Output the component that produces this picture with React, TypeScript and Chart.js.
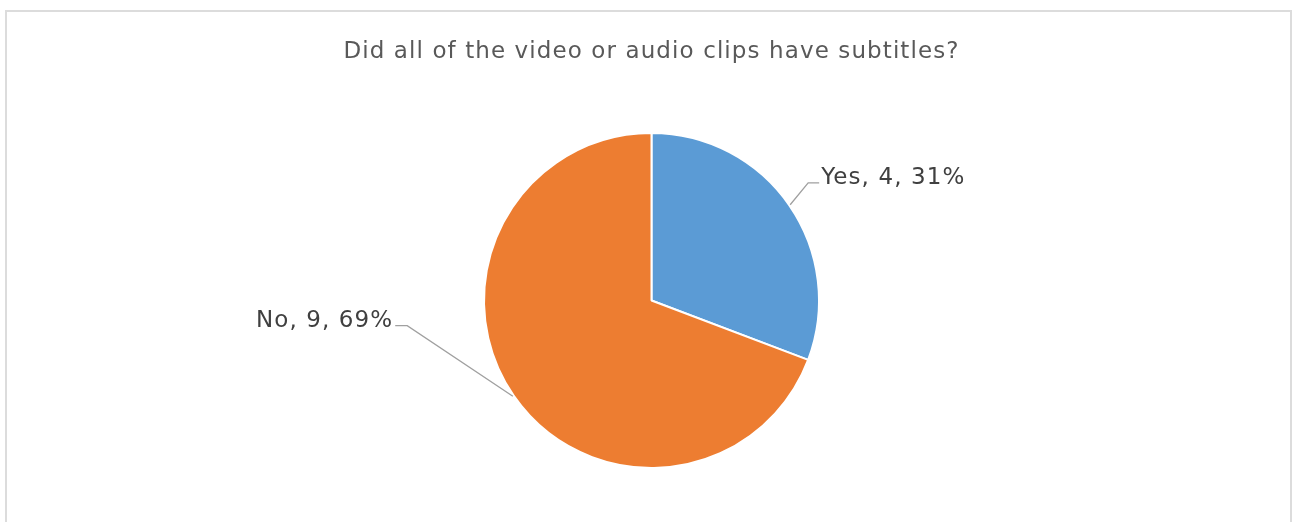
import React, { useEffect, useRef } from "react";
import { Chart, registerables } from "chart.js";

Chart.register(...registerables);

const TITLE = "Did all of the video or audio clips have subtitles?";
const categories = ["Yes", "No"];
const counts = [4, 9];
const sliceColors = ["#5B9BD5", "#ED7D31"];

const FONT_FAMILY = "'DejaVu Sans'";
const LETTER_SPACING = "1.1px";

// label placement: elbow offset from slice-edge midpoint, and horizontal run direction
const labelLayout = [
  { dx: 18, dy: -22, run: 11, side: 1 },
  { dx: -105.6, dy: -70.6, run: 12, side: -1 },
];

const spacingPlugin = {
  id: "letterSpacing",
  beforeDraw(chart: any) {
    (chart.ctx as any).letterSpacing = LETTER_SPACING;
  },
  afterDraw(chart: any) {
    (chart.ctx as any).letterSpacing = "0px";
  },
};

const labelPlugin = {
  id: "pieLabels",
  afterDatasetsDraw(chart: any) {
    const ctx = chart.ctx;
    const meta = chart.getDatasetMeta(0);
    const data = chart.data.datasets[0].data as number[];
    const total = data.reduce((a, b) => a + b, 0);
    ctx.save();
    meta.data.forEach((arc: any, i: number) => {
      const p = arc.getProps(["x", "y", "startAngle", "endAngle", "outerRadius"], true);
      const mid = (p.startAngle + p.endAngle) / 2;
      const r = p.outerRadius + 1;
      const ex = p.x + Math.cos(mid) * r;
      const ey = p.y + Math.sin(mid) * r;
      const L = labelLayout[i];
      const bx = ex + L.dx;
      const by = ey + L.dy;
      const hx = bx + L.side * L.run;
      ctx.strokeStyle = "#A0A0A0";
      ctx.lineWidth = 1.3;
      ctx.beginPath();
      ctx.moveTo(ex, ey);
      ctx.lineTo(bx, by);
      ctx.lineTo(hx, by);
      ctx.stroke();
      const pct = Math.round((data[i] / total) * 100);
      const text = `${chart.data.labels[i]}, ${data[i]}, ${pct}%`;
      ctx.letterSpacing = LETTER_SPACING;
      ctx.font = `23px ${FONT_FAMILY}`;
      ctx.fillStyle = "#404040";
      ctx.textBaseline = "alphabetic";
      ctx.textAlign = L.side > 0 ? "left" : "right";
      ctx.fillText(text, hx + L.side * 2, by + 1);
    });
    ctx.restore();
  },
};

export default function App() {
  const ref = useRef<HTMLCanvasElement>(null);
  useEffect(() => {
    const chart = new Chart(ref.current!, {
      type: "pie",
      data: {
        labels: categories,
        datasets: [
          {
            data: counts,
            backgroundColor: sliceColors,
            borderColor: "#FFFFFF",
            borderWidth: 2,
          },
        ],
      },
      options: {
        responsive: false,
        animation: false,
        layout: { padding: { left: 8, right: 0, top: 0, bottom: 53 } },
        plugins: {
          legend: { display: false },
          tooltip: { enabled: false },
          title: {
            display: true,
            text: TITLE,
            color: "#595959",
            font: { family: FONT_FAMILY, size: 23, weight: "normal" },
            padding: { top: 38, bottom: 66.4 },
          },
        },
      },
      plugins: [spacingPlugin, labelPlugin],
    });
    return () => chart.destroy();
  }, []);
  return (
    <div style={{ position: "fixed", left: 0, top: 0, width: 1295, height: 522, background: "#fff", overflow: "hidden" }}>
      <canvas ref={ref} width={1295} height={522} style={{ position: "absolute", left: 0, top: 0 }} />
      <div
        style={{
          position: "absolute",
          left: 5,
          top: 10,
          width: 1287,
          height: 530,
          border: "2px solid #DCDCDC",
          boxSizing: "border-box",
          pointerEvents: "none",
        }}
      />
    </div>
  );
}
